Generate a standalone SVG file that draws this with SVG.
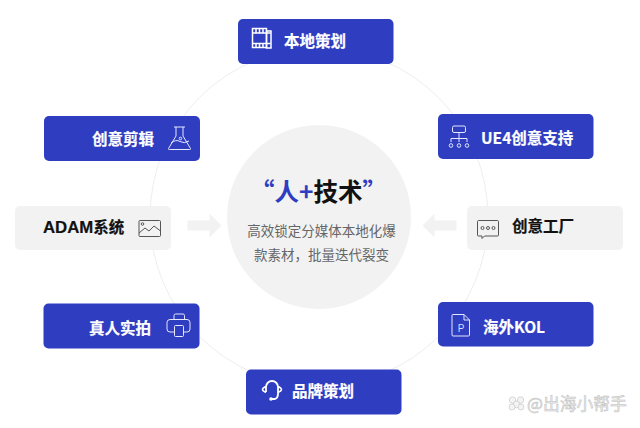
<svg xmlns="http://www.w3.org/2000/svg" width="640" height="428" viewBox="0 0 640 428">
<defs><style>
text{font-family:"Noto Sans CJK SC","Noto Sans",sans-serif}
.blue{fill:#2f3dc0}
.grey{fill:#f2f2f2}
.lw{font-size:15.500px;font-weight:700;fill:#fff;stroke:#fff;stroke-width:.2}
.lk{font-size:15.500px;font-weight:700;fill:#111;stroke:#111;stroke-width:.2}
.iw{fill:none;stroke:#e6e8ff;stroke-width:1}
.ik{fill:none;stroke:#555;stroke-width:1}
.sub{font-size:13.500px;fill:#666;text-anchor:middle}
</style></defs>
<rect width="640" height="428" fill="#fff"/>
<g id="connectors">
<circle cx="319" cy="217" r="169" fill="none" stroke="#e8e8e8" stroke-width="0.8"/>
<path d="M187.500 221h22v-7l12 12-12 12v-7h-22z" class="grey" transform="translate(0,-0.5)"/>
<path d="M456.500 221h-22v-7l-12 12 12 12v-7h22z" class="grey" transform="translate(0,-0.5)"/>
</g>
<g id="center">
<circle cx="319" cy="217" r="92" class="grey"/>
<text x="318.500" y="201" text-anchor="middle" font-size="24.500" font-weight="700"><tspan fill="#2f3dc0">“人+</tspan><tspan fill="#111">技术</tspan><tspan fill="#2f3dc0">”</tspan></text>
<text x="321.500" y="236" class="sub">高效锁定分媒体本地化爆</text>
<text x="321.500" y="260" class="sub">款素材，批量迭代裂变</text>
</g>
<g id="node-top">
<rect x="238" y="19" width="155.500" height="45" rx="5" class="blue"/>
<g class="iw" style="stroke:#fff;stroke-width:1.500"><rect x="252.500" y="28.500" width="14" height="19"/><rect x="266.500" y="31" width="4.500" height="17"/><path d="M252.500 33h18M252.500 43.500h18M256 28.500v4.500M259.500 28.500v4.500M263 28.500v4.500M256 43.500v4M259.500 43.500v4M263 43.500v4"/></g>
<text x="284" y="47" class="lw">本地策划</text>
</g>
<g id="node-creative-edit">
<rect x="44" y="116" width="156" height="45" rx="5" class="blue"/>
<text x="92" y="145" class="lw">创意剪辑</text>
<path class="iw" d="M174 127h11M176 127v9l-7.500 12.500q-.5 1 1 1h20q1.500 0 1-1L183 136v-9M171 143q5-4 9-1.500t9-.5"/>
<circle class="iw" cx="180.500" cy="138.500" r="1.300"/>
</g>
<g id="node-ue4">
<rect x="438" y="114" width="155.500" height="45" rx="5" class="blue"/>
<rect class="iw" x="452.500" y="126" width="13" height="6.500" rx="1.500"/>
<path class="iw" d="M459 132.500v6M451 142v-3.500h16v3.500M459 138.500v3.500"/>
<circle class="iw" cx="451" cy="145.500" r="1.800"/><circle class="iw" cx="459" cy="145.500" r="1.800"/><circle class="iw" cx="467" cy="145.500" r="1.800"/>
<text x="481" y="144" class="lw">UE4创意支持</text>
</g>
<g id="node-adam">
<rect x="15" y="206" width="156" height="44" rx="5" class="grey"/>
<text x="43" y="233" class="lk"><tspan style="font-family:'Liberation Sans',sans-serif" font-size="16.800">ADAM</tspan>系统</text>
<rect class="ik" x="139" y="220.500" width="21.500" height="16" rx="1"/>
<path class="ik" d="M139 233l6-5 4 3 5-5 6.500 5"/>
<circle class="ik" cx="142.500" cy="224" r="1.300"/>
</g>
<g id="node-factory">
<rect x="467" y="206" width="156" height="44" rx="5" class="grey"/>
<path class="ik" d="M478.500 220.500h19q1 0 1 1v13.500q0 1-1 1h-13l-2.500 2.500v-2.500h-3.500q-1 0-1-1v-13.500q0-1 1-1z"/>
<circle class="ik" cx="482.500" cy="228" r="1.500"/><circle class="ik" cx="488" cy="228" r="1.500"/><circle class="ik" cx="493.500" cy="228" r="1.500"/>
<text x="512" y="232" class="lk">创意工厂</text>
</g>
<g id="node-live">
<rect x="43.500" y="303.500" width="156" height="45" rx="5" class="blue"/>
<text x="89" y="334" class="lw">真人实拍</text>
<path class="iw" d="M174 319.500v-4q0-1.500 1.500-1.500h7.500q1.500 0 1.500 1.500v4M174 332h-4q-3 0-3-3v-6.500q0-3 3-3h17q3 0 3 3v6.500q0 3-3 3h-3.500"/>
<rect class="iw" x="174.500" y="325.500" width="9" height="11" rx="1"/>
</g>
<g id="node-kol">
<rect x="438" y="302" width="155.500" height="44.500" rx="5" class="blue"/>
<path class="iw" d="M453 314.500h11l5.500 5.500v15q0 1-1 1H453q-1 0-1-1v-19.500q0-1 1-1zM464 314.500v5.500h5.500"/>
<text x="461" y="332" font-size="10" fill="#d8dcff" text-anchor="middle" style="font-family:'Liberation Sans',sans-serif">P</text>
<text x="483" y="333" class="lw">海外KOL</text>
</g>
<g id="node-brand">
<rect x="246" y="369.500" width="155.500" height="45" rx="5" class="blue"/>
<path class="iw" style="stroke:#fff;stroke-width:1.800" d="M266 392v-5a6 6 0 0 1 12 0v7q0 4-3 5h-3"/>
<path class="iw" style="stroke:#fff;stroke-width:1.500" d="M266 386.500q-3.500 1.500-3.500 3t3.500 3M278 386.500q3.500 1.500 3.500 3t-3.500 3"/>
<circle cx="271" cy="399" r="1.800" fill="#fff"/>
<text x="292" y="397" class="lw">品牌策划</text>
</g>
<g id="watermark">
<g fill="#f4f4f4" stroke="#c8c8c8" stroke-width="0.700"><circle cx="512.500" cy="400" r="3.200"/><circle cx="520.500" cy="400" r="3.200"/><circle cx="516.500" cy="404.500" r="3.400"/><circle cx="512" cy="407" r="3"/><circle cx="521" cy="407" r="3"/></g>
<text x="527" y="410" font-size="16.800" fill="#ececec" stroke="#bdbdbd" stroke-width="0.500">@出海小帮手</text>
</g>
</svg>
